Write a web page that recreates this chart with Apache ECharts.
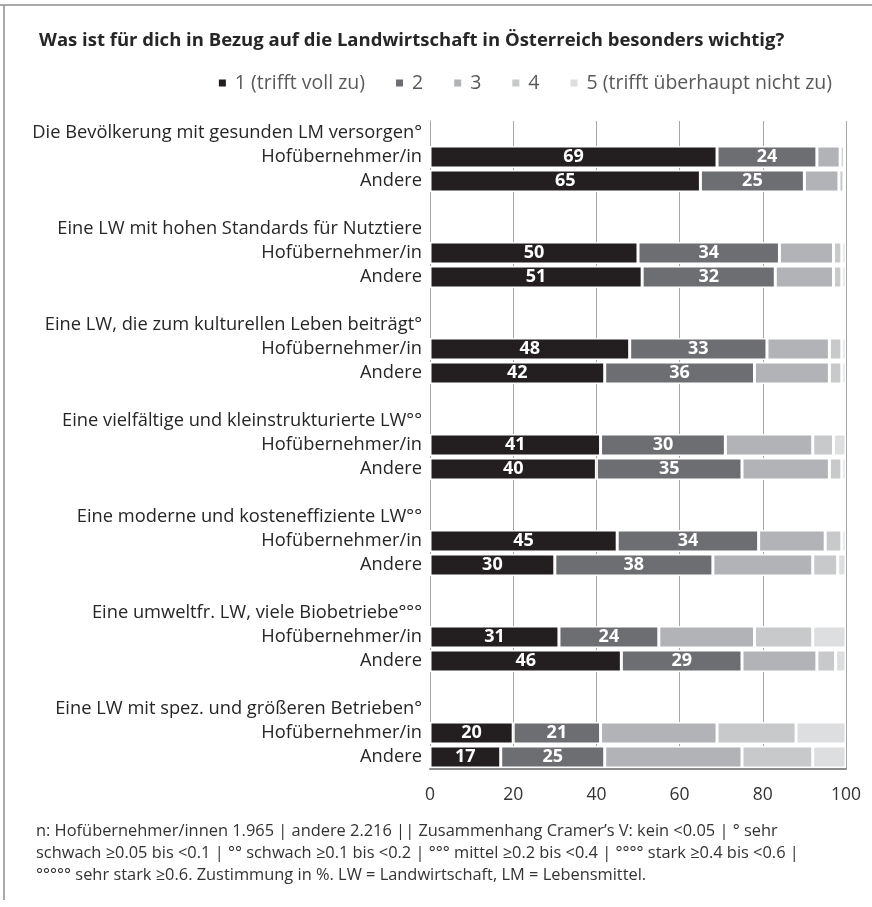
<!DOCTYPE html>
<html>
<head>
<meta charset="utf-8">
<script src="https://cdn.jsdelivr.net/npm/echarts@6/dist/echarts.min.js"></script>
<style>
html,body{margin:0;padding:0;background:#fff;}
#chart{width:872px;height:907px;}
</style>
</head>
<body>
<div id="chart"></div>
<script>
const titleText = 'Was ist für dich in Bezug auf die Landwirtschaft in Österreich besonders wichtig?';
const groups = [
  'Die Bevölkerung mit gesunden LM versorgen°',
  'Eine LW mit hohen Standards für Nutztiere',
  'Eine LW, die zum kulturellen Leben beiträgt°',
  'Eine vielfältige und kleinstrukturierte LW°°',
  'Eine moderne und kosteneffiziente LW°°',
  'Eine umweltfr. LW, viele Biobetriebe°°°',
  'Eine LW mit spez. und größeren Betrieben°'
];
const subLabels = ['Hofübernehmer/in', 'Andere'];
const seriesNames = ['1 (trifft voll zu)', '2', '3', '4', '5 (trifft überhaupt nicht zu)'];
const colors = ['#231f20', '#6d6e71', '#b1b3b6', '#c8c9cb', '#dddedf'];

// Hofübernehmer/in
const hof1 = [69, 50, 48, 41, 45, 31, 20];
const hof2 = [24, 34, 33, 30, 34, 24, 21];
const hof3 = [5.6, 13, 15, 21, 16, 23, 28];
const hof4 = [1, 2, 3, 5, 4, 14, 19];
const hof5 = [0.4, 1, 1, 3, 1, 8, 12];
// Andere
const and1 = [65, 51, 42, 40, 30, 46, 17];
const and2 = [25, 32, 36, 35, 38, 29, 25];
const and3 = [8.3, 14, 18, 21, 24, 18, 33];
const and4 = [1.2, 2, 3, 3, 6, 4.5, 17];
const and5 = [0.5, 1, 1, 1, 2, 2.5, 8];

const xTicks = [0, 20, 40, 60, 80, 100];
const footnote = [
  'n: Hofübernehmer/innen 1.965 | andere 2.216 || Zusammenhang Cramer\u2019s V: kein <0.05 | ° sehr',
  'schwach ≥0.05 bis <0.1 | °° schwach ≥0.1 bis <0.2 | °°° mittel ≥0.2 bis <0.4 | °°°° stark ≥0.4 bis <0.6 |',
  '°°°°° sehr stark ≥0.6. Zustimmung in %. LW = Landwirtschaft, LM = Lebensmittel.'
];

const hofSets = [hof1, hof2, hof3, hof4, hof5];
const andSets = [and1, and2, and3, and4, and5];

// Build rows: header, Hof, Andere, blank (no blank after last group)
const rowLabels = [];
const rowData = [[], [], [], [], []];
groups.forEach((g, gi) => {
  rowLabels.push(g);
  for (let s = 0; s < 5; s++) rowData[s].push('-');
  rowLabels.push(subLabels[0]);
  for (let s = 0; s < 5; s++) rowData[s].push(hofSets[s][gi]);
  rowLabels.push(subLabels[1]);
  for (let s = 0; s < 5; s++) rowData[s].push(andSets[s][gi]);
  if (gi < groups.length - 1) {
    rowLabels.push('');
    for (let s = 0; s < 5; s++) rowData[s].push('-');
  }
});
const rowKeys = rowLabels.map((l, i) => 'r' + i);

const FONT = 'Open Sans';
const chart = echarts.init(document.getElementById('chart'), null, {renderer: 'canvas'});
const option = {
  backgroundColor: '#fff',
  animation: false,
  textStyle: {fontFamily: FONT},
  title: {
    text: titleText,
    left: 34, top: 26,
    textStyle: {fontFamily: FONT, fontSize: 18.5, fontWeight: 'bold', color: '#262626'}
  },
  legend: {
    right: 35, top: 68,
    itemWidth: 9, itemHeight: 9, itemGap: 29,
    icon: 'rect',
    textStyle: {fontFamily: FONT, fontSize: 19.5, color: '#595959', padding: [0, 0, 0, 3]},
    data: seriesNames
  },
  grid: {left: 430, right: 26, top: 121, height: 648, containLabel: false},
  xAxis: {
    type: 'value', min: 0, max: 100, interval: 20,
    axisLine: {show: true, lineStyle: {color: '#8c8c8c', width: 2}},
    axisTick: {show: false},
    splitLine: {show: true, lineStyle: {color: '#a6a6a6', width: 1}},
    axisLabel: {
      fontFamily: FONT, fontSize: 17.5, color: '#333', margin: 17,
      formatter: v => xTicks.indexOf(v) >= 0 ? String(v) : ''
    }
  },
  yAxis: {
    type: 'category', inverse: true, data: rowKeys,
    axisLine: {show: true, lineStyle: {color: '#a6a6a6', width: 1}},
    axisTick: {show: false},
    axisLabel: {
      fontFamily: FONT, fontSize: 18.3, color: '#262626', margin: 8, interval: 0,
      formatter: (v, i) => rowLabels[i]
    }
  },
  series: seriesNames.map((name, s) => ({
    name: name, type: 'bar', stack: 'total',
    data: rowData[s],
    barCategoryGap: '8%',
    itemStyle: {color: colors[s], borderColor: '#ffffff', borderWidth: 1.5},
    label: {
      show: s < 2, position: 'inside',
      color: '#ffffff', fontFamily: FONT, fontSize: 18, fontWeight: 'bold',
      formatter: p => Math.round(p.value)
    }
  })),
  graphic: [
    {type: 'line', shape: {x1: 0, y1: 5, x2: 872, y2: 5}, style: {stroke: '#8c8c8c', lineWidth: 1.5}},
    {type: 'line', shape: {x1: 4, y1: 5, x2: 4, y2: 900}, style: {stroke: '#8c8c8c', lineWidth: 1.5}},
    {
      type: 'text', left: 36, top: 820,
      style: {
        text: footnote.join('\n'),
        fontFamily: FONT, fontSize: 16.4, lineHeight: 22, fill: '#333'
      }
    }
  ]
};
chart.setOption(option);
</script>
</body>
</html>
